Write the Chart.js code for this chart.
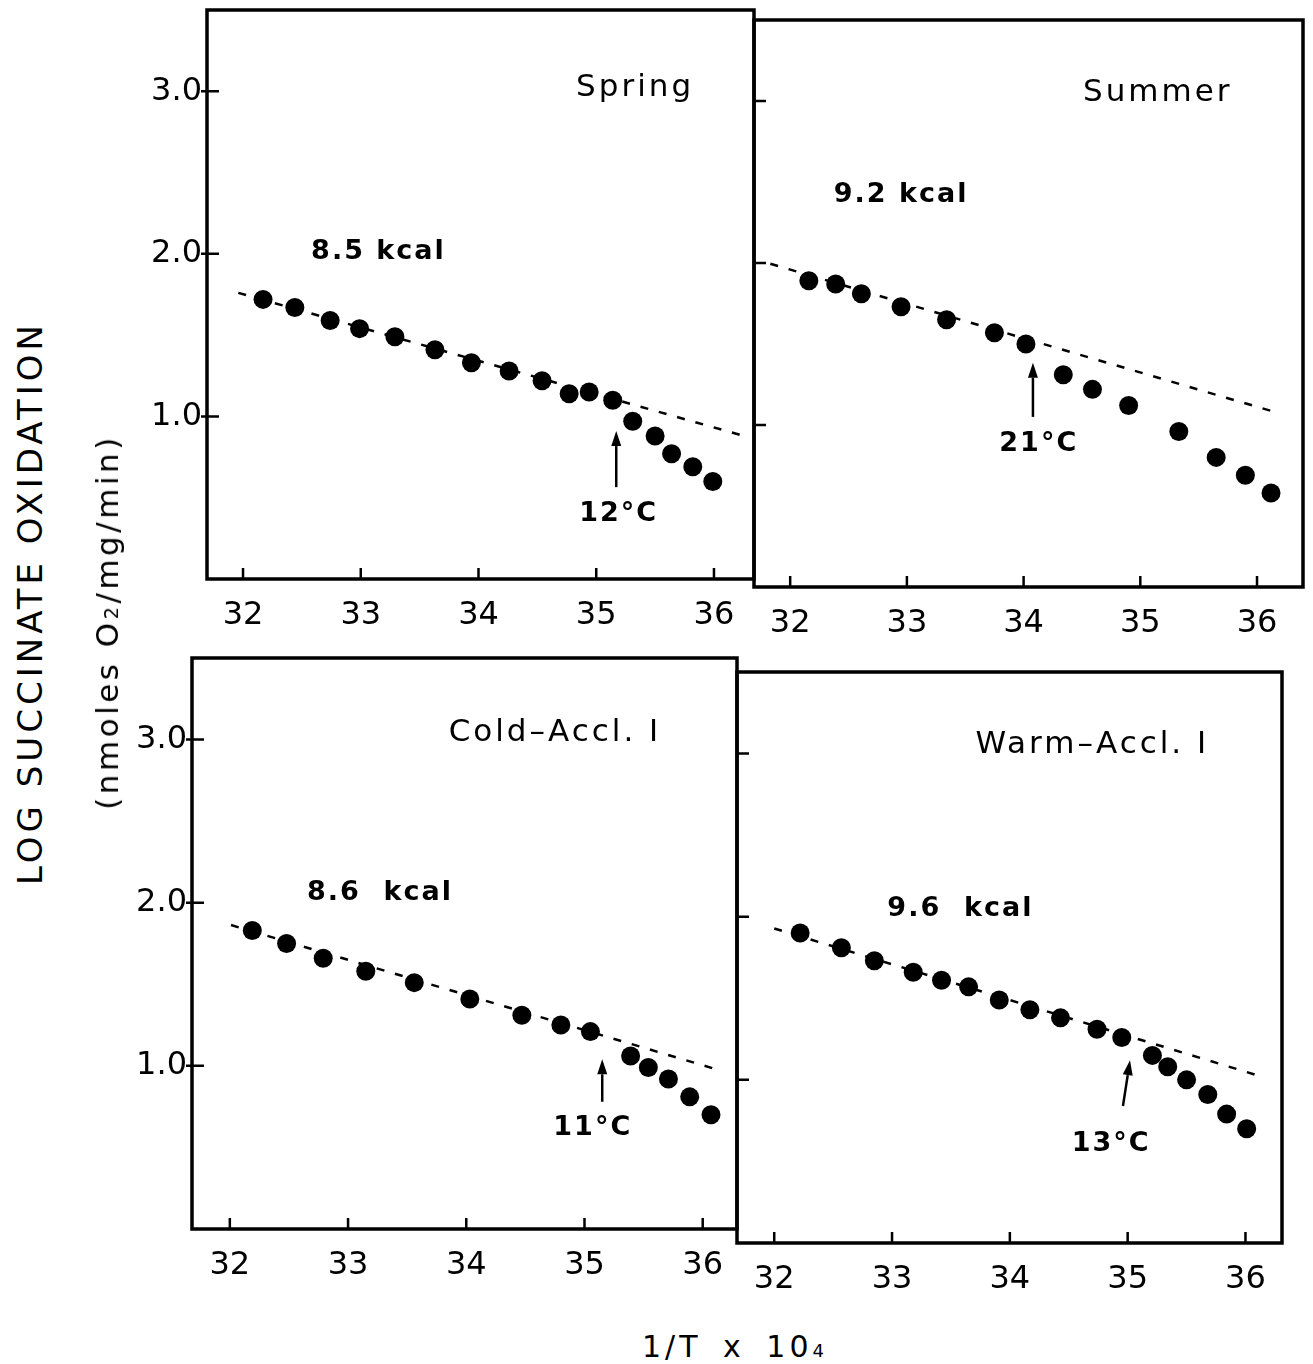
<!DOCTYPE html>
<html>
<head>
<meta charset="utf-8">
<script src="https://cdn.jsdelivr.net/npm/chart.js@4.4.1/dist/chart.umd.min.js"></script>
<style>
  html, body { margin: 0; padding: 0; background: #fff; overflow: hidden; }
  body { width: 1313px; height: 1364px; position: relative; font-family: "DejaVu Sans", sans-serif; color: #000; }
  canvas { position: absolute; }
  .title { position: absolute; white-space: nowrap; transform: translate(-50%, -50%); }
  .rot { transform: translate(-50%, -50%) rotate(-90deg); }
</style>
</head>
<body>
<canvas id="spring" style="left:137px; top:4px;" width="625" height="635"></canvas>
<canvas id="summer" style="left:684px; top:14px;" width="627" height="633"></canvas>
<canvas id="cold" style="left:122px; top:652px;" width="623" height="637"></canvas>
<canvas id="warm" style="left:667px; top:666px;" width="623" height="637"></canvas>

<div class="title rot" style="left:30px; top:603px; font-size:34px; letter-spacing:4px;">LOG SUCCINATE OXIDATION</div>
<div class="title rot" style="left:107px; top:622px; font-size:31px; letter-spacing:3.5px;">(nmoles O<span style="font-size:0.62em;">2</span>/mg/min)</div>
<div class="title" style="left:735px; top:1346px; font-size:30px; letter-spacing:4px; word-spacing:8px;">1/T x 10<span style="font-size:0.6em;">4</span></div>

<script>
// axis ticks shared by all four panels
const xTicks = [32, 33, 34, 35, 36];
const yTicks = [1, 2, 3];

// Spring
const springX = [32.17, 32.44, 32.74, 32.99, 33.29, 33.63, 33.94, 34.26, 34.54, 34.77, 34.94, 35.14, 35.31, 35.50, 35.64, 35.82, 35.99];
const springY = [1.72, 1.67, 1.59, 1.54, 1.49, 1.41, 1.33, 1.28, 1.22, 1.14, 1.15, 1.10, 0.97, 0.88, 0.77, 0.69, 0.60];
const springFitX = [31.96, 36.23];
const springFitY = [1.76, 0.885];

// Summer
const summerX = [32.16, 32.39, 32.61, 32.95, 33.34, 33.75, 34.02, 34.34, 34.59, 34.90, 35.33, 35.65, 35.90, 36.12];
const summerY = [1.89, 1.87, 1.81, 1.73, 1.65, 1.57, 1.50, 1.31, 1.22, 1.12, 0.96, 0.80, 0.69, 0.58];
const summerFitX = [31.83, 36.13];
const summerFitY = [1.995, 1.085];

// Cold-Accl. I
const coldX = [32.19, 32.48, 32.79, 33.15, 33.56, 34.03, 34.47, 34.80, 35.05, 35.39, 35.54, 35.71, 35.89, 36.07];
const coldY = [1.83, 1.75, 1.66, 1.58, 1.51, 1.41, 1.31, 1.25, 1.21, 1.06, 0.99, 0.92, 0.81, 0.70];
const coldFitX = [32.01, 36.11];
const coldFitY = [1.863, 0.98];

// Warm-Accl. I
const warmX = [32.22, 32.57, 32.85, 33.18, 33.42, 33.65, 33.91, 34.17, 34.43, 34.74, 34.95, 35.21, 35.34, 35.50, 35.68, 35.84, 36.01];
const warmY = [1.90, 1.81, 1.73, 1.66, 1.61, 1.57, 1.49, 1.43, 1.38, 1.31, 1.26, 1.15, 1.08, 1.00, 0.91, 0.79, 0.70];
const warmFitX = [32.0, 36.11];
const warmFitY = [1.928, 1.026];

// frame round the plot area plus inward tick marks
const framePlugin = {
    id: 'frame',
    afterDraw(chart, args, opts) {
        const { ctx, chartArea: a, scales } = chart;
        ctx.save();
        ctx.strokeStyle = '#000';
        ctx.lineWidth = 3.5;
        ctx.strokeRect(a.left, a.top, a.right - a.left, a.bottom - a.top);
        ctx.lineWidth = 2.5;
        ctx.beginPath();
        xTicks.forEach(v => {
            const px = scales.x.getPixelForValue(v);
            ctx.moveTo(px, a.bottom);
            ctx.lineTo(px, a.bottom - 11);
        });
        yTicks.forEach(v => {
            const py = scales.y.getPixelForValue(v);
            ctx.moveTo(a.left - (opts.labels ? 6 : 0), py);
            ctx.lineTo(a.left + 12, py);
        });
        ctx.stroke();
        ctx.restore();
    }
};

// panel name, activation energy, break temperature with its arrow
const decorPlugin = {
    id: 'decor',
    afterDatasetsDraw(chart, args, o) {
        const { ctx, scales: { x, y } } = chart;
        ctx.save();
        ctx.fillStyle = '#000';
        ctx.strokeStyle = '#000';
        ctx.textAlign = 'center';
        ctx.textBaseline = 'middle';

        ctx.font = '31px "DejaVu Sans"';
        ctx.letterSpacing = '3px';
        ctx.fillText(o.name, x.getPixelForValue(o.nameAt[0]), y.getPixelForValue(o.nameAt[1]));

        ctx.font = 'bold 27px "DejaVu Sans"';
        ctx.letterSpacing = '2px';
        ctx.fillText(o.kcal, x.getPixelForValue(o.kcalAt[0]), y.getPixelForValue(o.kcalAt[1]));
        ctx.fillText(o.temp, x.getPixelForValue(o.tempAt[0]), y.getPixelForValue(o.tempAt[1]));

        // arrow
        const x0 = x.getPixelForValue(o.arrowX[0]), y0 = y.getPixelForValue(o.arrowY[0]);
        const x1 = x.getPixelForValue(o.arrowX[1]), y1 = y.getPixelForValue(o.arrowY[1]);
        const ang = Math.atan2(y1 - y0, x1 - x0);
        const hl = 15, hw = 5;
        const bx = x1 - hl * Math.cos(ang), by = y1 - hl * Math.sin(ang);
        ctx.lineWidth = 2.5;
        ctx.beginPath();
        ctx.moveTo(x0, y0);
        ctx.lineTo(bx, by);
        ctx.stroke();
        ctx.beginPath();
        ctx.moveTo(x1, y1);
        ctx.lineTo(bx + hw * Math.sin(ang), by - hw * Math.cos(ang));
        ctx.lineTo(bx - hw * Math.sin(ang), by + hw * Math.cos(ang));
        ctx.closePath();
        ctx.fill();
        ctx.restore();
    }
};

function toPoints(xs, ys) {
    return xs.map((v, i) => ({ x: v, y: ys[i] }));
}

function makePanel(id, p) {
    const tickFont = { family: 'DejaVu Sans', size: 32 };
    return new Chart(document.getElementById(id), {
        type: 'scatter',
        data: {
            datasets: [
                {
                    data: toPoints(p.x, p.y),
                    pointRadius: 9.5,
                    pointBackgroundColor: '#000',
                    pointBorderWidth: 0
                },
                {
                    type: 'line',
                    data: toPoints(p.fitX, p.fitY),
                    borderColor: '#000',
                    borderWidth: 2.5,
                    borderDash: [8, 11],
                    pointRadius: 0,
                    fill: false
                }
            ]
        },
        options: {
            responsive: false,
            animation: false,
            devicePixelRatio: 1,
            layout: { autoPadding: false, padding: { top: 6, right: 8, left: 0, bottom: 0 } },
            plugins: {
                legend: { display: false },
                tooltip: { enabled: false },
                frame: { labels: p.yLabels },
                decor: p.decor
            },
            scales: {
                x: {
                    type: 'linear',
                    min: p.xMin,
                    max: p.xMax,
                    afterBuildTicks: s => { s.ticks = xTicks.map(v => ({ value: v })); },
                    afterFit: s => { s.height = 60; s.paddingLeft = 0; s.paddingRight = 0; },
                    grid: { display: false, drawTicks: false },
                    border: { display: false },
                    ticks: { font: tickFont, color: '#000', padding: 17, autoSkip: false, maxRotation: 0 }
                },
                y: {
                    type: 'linear',
                    min: 0,
                    max: 3.5,
                    afterBuildTicks: s => { s.ticks = yTicks.map(v => ({ value: v })); },
                    afterFit: s => { s.width = 70; s.paddingTop = 0; s.paddingBottom = 0; },
                    grid: { display: false, drawTicks: false },
                    border: { display: false },
                    ticks: {
                        display: p.yLabels,
                        font: tickFont,
                        color: '#000',
                        padding: 5,
                        callback: v => v.toFixed(1)
                    }
                }
            }
        },
        plugins: [framePlugin, decorPlugin]
    });
}

makePanel('spring', {
    x: springX, y: springY, fitX: springFitX, fitY: springFitY,
    xMin: 31.694, xMax: 36.34, yLabels: true,
    decor: {
        name: 'Spring', nameAt: [35.33, 3.02],
        kcal: '8.5 kcal', kcalAt: [33.15, 2.01],
        temp: '12°C', tempAt: [35.19, 0.40],
        arrowX: [35.17, 35.17], arrowY: [0.565, 0.91]
    }
});

makePanel('summer', {
    x: summerX, y: summerY, fitX: summerFitX, fitY: summerFitY,
    xMin: 31.69, xMax: 36.394, yLabels: false,
    decor: {
        name: 'Summer', nameAt: [35.15, 3.05],
        kcal: '9.2 kcal', kcalAt: [32.95, 2.42],
        temp: '21°C', tempAt: [34.13, 0.885],
        arrowX: [34.08, 34.08], arrowY: [1.05, 1.385]
    }
});

makePanel('cold', {
    x: coldX, y: coldY, fitX: coldFitX, fitY: coldFitY,
    xMin: 31.68, xMax: 36.29, yLabels: true,
    decor: {
        name: 'Cold–Accl. I', nameAt: [34.75, 3.04],
        kcal: '8.6  kcal', kcalAt: [33.27, 2.06],
        temp: '11°C', tempAt: [35.07, 0.62],
        arrowX: [35.15, 35.15], arrowY: [0.78, 1.04]
    }
});

makePanel('warm', {
    x: warmX, y: warmY, fitX: warmFitX, fitY: warmFitY,
    xMin: 31.684, xMax: 36.31, yLabels: false,
    decor: {
        name: 'Warm–Accl. I', nameAt: [34.70, 3.05],
        kcal: '9.6  kcal', kcalAt: [33.58, 2.05],
        temp: '13°C', tempAt: [34.86, 0.605],
        arrowX: [34.96, 35.02], arrowY: [0.84, 1.12]
    }
});
</script>
</body>
</html>
